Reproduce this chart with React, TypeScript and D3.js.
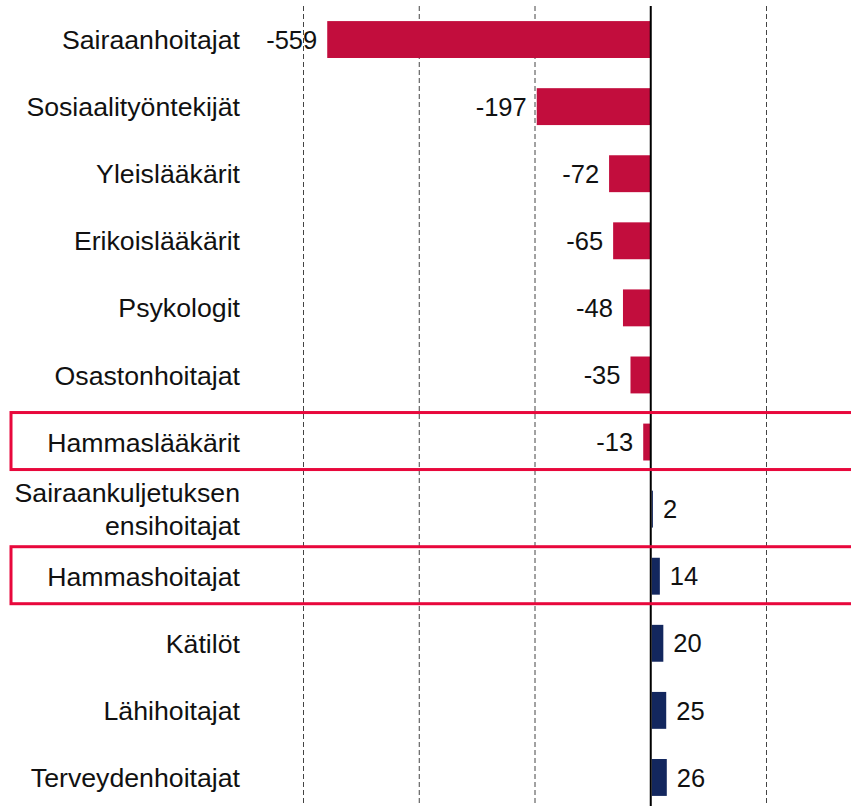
import React from "react";
import * as d3 from "d3";

const categories: string[][] = [
  ["Sairaanhoitajat"],
  ["Sosiaalityöntekijät"],
  ["Yleislääkärit"],
  ["Erikoislääkärit"],
  ["Psykologit"],
  ["Osastonhoitajat"],
  ["Hammaslääkärit"],
  ["Sairaankuljetuksen", "ensihoitajat"],
  ["Hammashoitajat"],
  ["Kätilöt"],
  ["Lähihoitajat"],
  ["Terveydenhoitajat"],
];
const values: number[] = [-559, -197, -72, -65, -48, -35, -13, 2, 14, 20, 25, 26];
const gridTicks: number[] = [-600, -400, -200, 200];
const highlighted: number[] = [6, 8];

const W = 851;
const H = 806;
const FONT = "'Liberation Sans', Arial, sans-serif";

export default function App() {
  const x = d3.scaleLinear().domain([-600, 200]).range([303.5, 766.5]);
  const idx = categories.map((_, i) => String(i));
  const y = d3
    .scaleBand<string>()
    .domain(idx)
    .range([6, 811])
    .paddingInner(0.45)
    .paddingOuter(0.225);
  const bw = y.bandwidth();
  const x0 = x(0);

  return (
    <svg
      width={W}
      height={H}
      style={{ position: "absolute", left: 0, top: 0, background: "#fff" }}
      fontFamily={FONT}
    >
      {gridTicks.map((t) => (
        <line
          key={t}
          x1={x(t)}
          x2={x(t)}
          y1={6}
          y2={H}
          stroke="#444"
          strokeWidth={1}
          strokeDasharray="5,3"
        />
      ))}
      {values.map((v, i) => {
        const yy = y(String(i))!;
        const left = v < 0 ? x(v) : x0 + 1;
        const w = Math.abs(x(v) - x0);
        return (
          <rect
            key={i}
            x={left}
            y={yy}
            width={w}
            height={bw}
            fill={v < 0 ? "#C20D3D" : "#13275E"}
          />
        );
      })}
      {values.map((v, i) => {
        const cy = y(String(i))! + bw / 2;
        return (
          <text
            key={"v" + i}
            x={v < 0 ? x(v) - 10 : x(v) + 11}
            y={cy}
            dy="0.36em"
            fontSize={25.5}
            textAnchor={v < 0 ? "end" : "start"}
            fill="#111"
          >
            {v}
          </text>
        );
      })}
      {categories.map((lines, i) => {
        const cy = y(String(i))! + bw / 2;
        const lh = 33;
        const start = cy - ((lines.length - 1) * lh) / 2;
        return (
          <text
            key={"c" + i}
            x={240}
            fontSize={26.7}
            textAnchor="end"
            fill="#111"
          >
            {lines.map((l, j) => (
              <tspan key={j} x={240} y={start + j * lh} dy="0.36em">
                {l}
              </tspan>
            ))}
          </text>
        );
      })}
      <line x1={x0} x2={x0} y1={6} y2={H} stroke="#000" strokeWidth={2} />
      {highlighted.map((i) => {
        const cy = y(String(i))! + bw / 2;
        return (
          <rect
            key={"h" + i}
            x={11}
            y={cy - 29.5}
            width={860}
            height={57}
            fill="none"
            stroke="#E8083C"
            strokeWidth={3}
          />
        );
      })}
    </svg>
  );
}
